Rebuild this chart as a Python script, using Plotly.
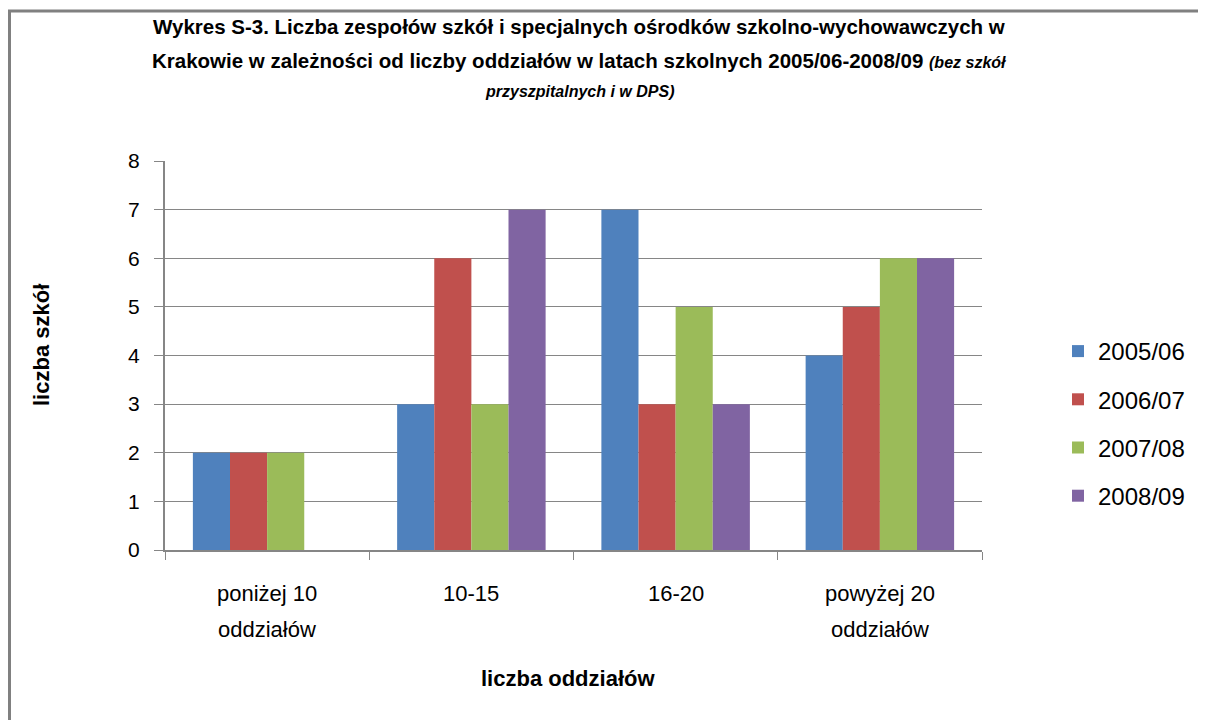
import plotly.graph_objects as go

categories = ["poniżej 10 oddziałów", "10-15", "16-20", "powyżej 20 oddziałów"]
category_line1 = ["poniżej 10", "10-15", "16-20", "powyżej 20"]
category_line2 = ["oddziałów", "", "", "oddziałów"]
series_names = ["2005/06", "2006/07", "2007/08", "2008/09"]
v_2005_06 = [2, 3, 7, 4]
v_2006_07 = [2, 6, 3, 5]
v_2007_08 = [2, 3, 5, 6]
v_2008_09 = [0, 7, 3, 6]
y_ticks = [0, 1, 2, 3, 4, 5, 6, 7, 8]

colors = ["#4F81BD", "#C0504D", "#9BBB59", "#8064A2"]
FONT = "Liberation Sans, Arial"

fig = go.Figure()
for i, (name, vals) in enumerate(zip(series_names, [v_2005_06, v_2006_07, v_2007_08, v_2008_09])):
    fig.add_trace(go.Bar(x=categories, y=vals, name=name, marker_color=colors[i],
                         marker_line_width=0, legendgroup=name))

OFF = 8  # page body margin
W, H = 1206, 720
L, R, T, B = 165 - OFF, 1206 - (982 - OFF), 161 - OFF, 720 - (550 - OFF)
pw, ph = W - L - R, H - T - B

def px_x(p):  # page px -> paper
    return (p - OFF - L) / pw

def px_y(p):
    return (H - B - (p - OFF)) / ph

fig.update_layout(
    width=W, height=H,
    margin=dict(l=L, r=R, t=T, b=B),
    paper_bgcolor="white", plot_bgcolor="white",
    font=dict(family=FONT, size=20, color="black"),
    barmode="group", bargap=0.273, bargroupgap=0,
    showlegend=True,
    legend=dict(x=px_x(1058), y=px_y(329), xanchor="left", yanchor="top",
                font=dict(size=24, family=FONT), tracegroupgap=14,
                itemwidth=30),
    xaxis=dict(showline=True, linecolor="#868686", linewidth=2, ticks="outside",
               tickson="boundaries", ticklen=8, tickcolor="#868686", tickwidth=1,
               showticklabels=False, showgrid=False),
    yaxis=dict(range=[0, 8], tickvals=y_ticks, showline=True, linecolor="#868686", linewidth=2,
               ticks="outside", ticklen=9, tickcolor="#868686", showgrid=True,
               gridcolor="#868686", gridwidth=1, zeroline=False,
               tickfont=dict(size=21, family=FONT), ticklabelstandoff=10),
)

# category labels (two lines, wide line spacing)
for cat, l1, l2 in zip(categories, category_line1, category_line2):
    for txt, yp in ((l1, 593), (l2, 629)):
        if txt:
            fig.add_annotation(text=txt, xref="x", yref="paper", x=cat, y=px_y(yp),
                               xanchor="center", yanchor="middle", showarrow=False,
                               font=dict(size=22, family=FONT, color="black"))

# axis titles
fig.add_annotation(text="<b>liczba oddziałów</b>", xref="paper", yref="paper",
                   x=px_x(568), y=px_y(678), xanchor="center", yanchor="middle",
                   showarrow=False, font=dict(size=22, family=FONT, color="black"))
fig.add_annotation(text="<b>liczba szkół</b>", xref="paper", yref="paper",
                   x=px_x(41), y=px_y(345), xanchor="center", yanchor="middle",
                   textangle=-90, showarrow=False, font=dict(size=22, family=FONT, color="black"))

title_lines = [
    ("<b>Wykres S-3. Liczba zespołów szkół i specjalnych ośrodków szkolno-wychowawczych w</b>", 27),
    ("<b>Krakowie w zależności od liczby oddziałów w latach szkolnych 2005/06-2008/09 </b><b><i><span style='font-size:16px'>(bez szkół</span></i></b>", 61),
    ("<b><i><span style='font-size:16px'>przyszpitalnych i w DPS)</span></i></b>", 92),
]
for text, yp in title_lines:
    fig.add_annotation(text=text, xref="paper", yref="paper", x=px_x(579), y=px_y(yp),
                       xanchor="center", yanchor="middle", showarrow=False,
                       font=dict(size=20.5, family=FONT, color="black"))

fig.add_shape(type="rect", xref="paper", yref="paper", x0=px_x(9.5), x1=px_x(1400),
              y0=px_y(900), y1=px_y(11), line=dict(color="#808080", width=3), layer="below")

fig.write_html("out.html")
